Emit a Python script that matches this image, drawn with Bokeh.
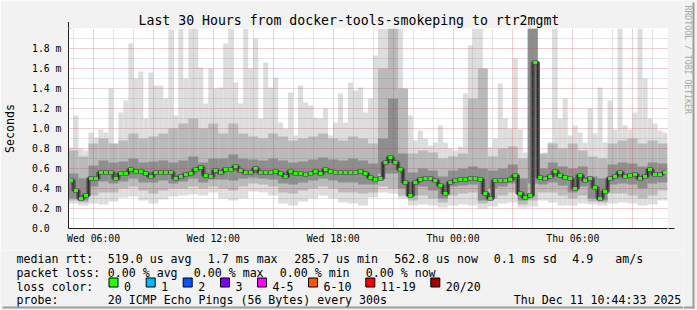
import math
from datetime import datetime, timedelta
import numpy as np
from bokeh.plotting import figure
from bokeh.layouts import row, column
from bokeh.models import Range1d, FixedTicker, Arrow, NormalHead, CustomJSTickFormatter
from bokeh.core.properties import value
from bokeh.embed import file_html
from bokeh.resources import INLINE

EPOCH = datetime(1970, 1, 1)


def ms(dt):
    return (dt - EPOCH).total_seconds() * 1000.0


START = datetime(2025, 12, 10, 4, 44, 33)
END = datetime(2025, 12, 11, 10, 44, 33)

# ---- data (milliseconds) ----
# median rtt, one value per 15 minutes
median_ms = [
    0.48, 0.38, 0.30, 0.33, 0.50, 0.50, 0.56, 0.56, 0.56, 0.50, 0.55, 0.55, 0.59, 0.57, 0.57,
    0.55, 0.52, 0.56, 0.56, 0.56, 0.56, 0.50, 0.52, 0.54, 0.55, 0.59, 0.61, 0.53, 0.52, 0.58,
    0.56, 0.59, 0.59, 0.62, 0.58, 0.56, 0.56, 0.60, 0.56, 0.56, 0.56, 0.57, 0.55, 0.52, 0.57,
    0.55, 0.55, 0.54, 0.55, 0.57, 0.55, 0.59, 0.57, 0.56, 0.56, 0.56, 0.56, 0.56, 0.57, 0.55,
    0.51, 0.49, 0.50, 0.66, 0.71, 0.66, 0.59, 0.46, 0.33, 0.46, 0.49, 0.50, 0.50, 0.48, 0.43,
    0.35, 0.46, 0.48, 0.49, 0.49, 0.50, 0.50, 0.49, 0.35, 0.30, 0.48, 0.48, 0.48, 0.49, 0.53,
    0.35, 0.31, 0.33, 1.66, 0.51, 0.50, 0.52, 0.57, 0.53, 0.51, 0.50, 0.40, 0.53, 0.48, 0.50,
    0.41, 0.30, 0.37, 0.50, 0.52, 0.56, 0.52, 0.53, 0.54, 0.50, 0.52, 0.59, 0.54, 0.54, 0.56,
]
# highest ping per 15 minutes (outer smoke top)
smoke_max = [
    0.81, 1.13, 0.80, 0.78, 0.96, 0.91, 0.99, 0.96, 1.40, 0.81, 1.16, 1.28, 1.85, 1.50, 1.57,
    1.10, 1.56, 1.43, 1.43, 1.30, 1.99, 1.13, 2.05, 1.50, 2.05, 2.05, 1.61, 1.25, 1.60, 1.40,
    1.41, 1.85, 2.05, 1.46, 1.25, 2.05, 1.60, 1.90, 1.10, 1.66, 1.41, 1.51, 1.06, 1.00, 1.36,
    0.93, 1.43, 1.26, 1.23, 1.11, 1.10, 1.20, 0.93, 1.06, 1.35, 1.06, 1.46, 1.38, 1.41, 1.16,
    1.30, 1.73, 2.05, 2.05, 2.05, 2.05, 2.05, 1.36, 1.13, 0.88, 0.98, 0.90, 0.83, 0.86, 1.03,
    0.86, 0.80, 0.78, 0.82, 1.35, 1.83, 2.05, 2.05, 1.06, 0.81, 0.90, 1.45, 1.10, 1.00, 1.70,
    0.99, 0.76, 0.75, 2.05, 0.75, 0.76, 0.86, 2.05, 1.10, 1.30, 0.93, 1.03, 0.96, 0.86, 1.20,
    0.95, 1.41, 0.86, 1.28, 0.99, 2.05, 1.03, 0.99, 1.16, 2.05, 1.50, 1.10, 1.05, 0.98, 0.96,
]
# lowest ping per 30 minutes (outer smoke bottom)
smoke_min = [
    0.25, 0.23, 0.25, 0.24, 0.27, 0.31, 0.32, 0.28, 0.25, 0.29, 0.32, 0.33, 0.34, 0.33, 0.36,
    0.30, 0.28, 0.30, 0.37, 0.36, 0.33, 0.25, 0.23, 0.27, 0.30, 0.33, 0.30, 0.26, 0.25, 0.23,
    0.31, 0.36, 0.35, 0.30, 0.23, 0.24, 0.23, 0.21, 0.23, 0.24, 0.23, 0.20, 0.22, 0.25, 0.26,
    0.21, 0.22, 0.28, 0.26, 0.23, 0.23, 0.25, 0.24, 0.23, 0.25, 0.26, 0.25, 0.23, 0.24, 0.28,
]
# inner smoke layers per 30 minutes
band1_hi = [
    0.78, 0.72, 0.85, 0.90, 0.85, 0.88, 0.95, 0.90, 0.92, 0.95, 1.00, 1.05, 1.10, 1.00, 1.05,
    0.95, 1.05, 0.95, 0.92, 0.90, 0.95, 0.92, 0.88, 0.90, 0.92, 0.95, 0.90, 0.88, 0.92, 0.90,
    0.85, 1.60, 2.05, 1.40, 0.75, 0.78, 0.76, 0.70, 0.72, 0.75, 1.30, 1.60, 0.72, 0.80, 0.82,
    0.70, 2.05, 0.75, 0.85, 0.80, 0.85, 0.78, 0.72, 0.70, 0.85, 0.88, 0.90, 0.85, 0.88, 0.85,
]
band1_lo = [
    0.28, 0.26, 0.33, 0.36, 0.36, 0.40, 0.42, 0.38, 0.35, 0.38, 0.40, 0.40, 0.42, 0.40, 0.42,
    0.40, 0.38, 0.42, 0.45, 0.44, 0.42, 0.36, 0.35, 0.38, 0.40, 0.42, 0.40, 0.36, 0.36, 0.35,
    0.36, 0.42, 0.40, 0.33, 0.28, 0.33, 0.30, 0.26, 0.33, 0.35, 0.36, 0.25, 0.30, 0.33, 0.36,
    0.24, 0.28, 0.36, 0.36, 0.33, 0.30, 0.33, 0.27, 0.26, 0.35, 0.35, 0.33, 0.30, 0.33, 0.38,
]
band2_hi = [
    0.55, 0.50, 0.63, 0.68, 0.66, 0.67, 0.70, 0.66, 0.67, 0.68, 0.66, 0.68, 0.72, 0.66, 0.70,
    0.70, 0.74, 0.70, 0.69, 0.68, 0.70, 0.68, 0.66, 0.67, 0.69, 0.71, 0.69, 0.68, 0.70, 0.68,
    0.65, 0.90, 1.30, 0.75, 0.56, 0.60, 0.58, 0.52, 0.58, 0.60, 0.62, 0.60, 0.58, 0.60, 0.64,
    0.50, 2.05, 0.60, 0.66, 0.62, 0.60, 0.62, 0.52, 0.50, 0.64, 0.66, 0.65, 0.62, 0.66, 0.65,
]
band2_lo = [
    0.30, 0.28, 0.42, 0.47, 0.45, 0.47, 0.50, 0.46, 0.46, 0.48, 0.45, 0.47, 0.50, 0.46, 0.49,
    0.49, 0.48, 0.50, 0.51, 0.50, 0.49, 0.45, 0.44, 0.46, 0.48, 0.50, 0.48, 0.46, 0.46, 0.44,
    0.44, 0.55, 0.55, 0.40, 0.33, 0.42, 0.38, 0.30, 0.42, 0.43, 0.44, 0.28, 0.40, 0.42, 0.45,
    0.28, 0.45, 0.44, 0.46, 0.43, 0.36, 0.42, 0.30, 0.28, 0.44, 0.45, 0.44, 0.40, 0.45, 0.46,
]

y_tick_values = [0.0, 0.2, 0.4, 0.6, 0.8, 1.0, 1.2, 1.4, 1.6, 1.8]

title_text = "Last 30 Hours from docker-tools-smokeping to rtr2mgmt"
rtt_row = ["median rtt:", "519.0 us avg", "1.7 ms max", "285.7 us min", "562.8 us now",
           "0.1 ms sd", "4.9", "am/s"]
loss_row = ["packet loss:", "0.00 % avg", "0.00 % max", "0.00 % min", "0.00 % now"]
loss_labels = ["0", "1", "2", "3", "4-5", "6-10", "11-19", "20/20"]
loss_colors = ["#26ff00", "#00b8ff", "#0059ff", "#7e00ff", "#ff00ff", "#ff5500", "#ff0000", "#a10000"]
probe_row = ["probe:", "20 ICMP Echo Pings (56 Bytes) every 300s", "Thu Dec 11 10:44:33 2025"]
watermark = "RRDTOOL / TOBI OETIKER"

# ---- layout constants (pixels) ----
rtt_x = [16, 107.3, 207.3, 293.7, 393.7, 493.3, 571.7, 614.7]
loss_x = [16, 107.3, 193.3, 279.3, 365.3]
box_x = [108.5, 145.7, 182.7, 220.0, 257.0, 308.0, 365.3, 430.3]
probe_x = [16, 107.3, 513.3]
row_y = [258, 272, 286, 299.5]
MONO = "DejaVu Sans Mono"
LEG_SIZE = "11.6px"
BG = "#f2f2f2"
MAIN_W, MAIN_H = 683, 250

fine_w = 15 * 60 * 1000
coarse_w = 30 * 60 * 1000
t_fine = [ms(START) + fine_w * (i + 0.5) for i in range(len(median_ms))]
t_coarse = [ms(START) + coarse_w * (i + 0.5) for i in range(len(smoke_min))]
smoke_min_fine = list(np.repeat(smoke_min, 2))

# ================= main chart =================
p = figure(width=MAIN_W, height=MAIN_H, x_axis_type="datetime", output_backend="svg",
           toolbar_location=None, tools="",
           x_range=Range1d(ms(START), ms(END)), y_range=Range1d(0, 2.0),
           min_border_left=67, min_border_right=MAIN_W - 667, min_border_top=28,
           min_border_bottom=22,
           background_fill_color="#ffffff", border_fill_color=BG,
           outline_line_color=None)

p.title.text = title_text
p.title.align = "left"
p.title.offset = 70
p.title.standoff = 1
p.title.text_font = MONO
p.title.text_font_size = "13.2px"
p.title.text_font_style = "normal"
p.title.text_color = "#000000"

# smoke layers
p.vbar(x=t_fine, width=fine_w, top=smoke_max, bottom=smoke_min_fine,
       fill_color="#dddddd", line_color=None)
p.vbar(x=t_coarse, width=coarse_w, top=band1_hi, bottom=band1_lo,
       fill_color="#bababa", line_color=None)
p.vbar(x=t_coarse, width=coarse_w, top=band2_hi, bottom=band2_lo,
       fill_color="#8e8e8e", line_color=None)
p.step(x=t_fine, y=median_ms, mode="center", line_width=4.5, line_color="#5a5a5a")
p.step(x=t_fine, y=median_ms, mode="center", line_width=1.5, line_color="#2a2a2a")
g = p.rect(x=t_fine, y=median_ms, width=4, height=3, width_units="screen",
           height_units="screen", fill_color="#26ff00", line_color=None)
g.level = "annotation"

# ticks / grids
six_h = []
t = datetime(2025, 12, 10, 6, 0)
while t <= END:
    six_h.append(ms(t))
    t += timedelta(hours=6)
three_h, one_h = [], []
t = datetime(2025, 12, 10, 5, 0)
while t <= END:
    (three_h if t.hour % 3 == 0 else one_h).append(ms(t))
    t += timedelta(hours=1)

p.xaxis.ticker = FixedTicker(ticks=six_h, minor_ticks=[])
p.xaxis.formatter = CustomJSTickFormatter(code="""
const d = new Date(tick);
const days = ['Sun','Mon','Tue','Wed','Thu','Fri','Sat'];
const h = String(d.getUTCHours()).padStart(2, '0');
const m = String(d.getUTCMinutes()).padStart(2, '0');
return days[d.getUTCDay()] + ' ' + h + ':' + m;
""")
p.yaxis.ticker = FixedTicker(ticks=y_tick_values, minor_ticks=[])
p.yaxis.formatter = CustomJSTickFormatter(
    code="return tick == 0 ? '0.0\u00a0\u00a0' : tick.toFixed(1) + ' m';")

for ax in (p.xaxis, p.yaxis):
    ax.major_label_text_font = MONO
    ax.major_label_text_font_size = "9.8px"
    ax.major_label_text_color = "#000000"
    ax.major_tick_in = 0
    ax.major_tick_out = 0
    ax.minor_tick_line_color = None
    ax.axis_line_color = "#202020"
p.xaxis.major_label_standoff = 4
p.yaxis.major_label_standoff = 7
p.yaxis.axis_label = "Seconds"
p.yaxis.axis_label_text_font = MONO
p.yaxis.axis_label_text_font_size = LEG_SIZE
p.yaxis.axis_label_text_font_style = "normal"
p.yaxis.axis_label_text_color = "#000000"
p.yaxis.axis_label_standoff = 12

p.xgrid.ticker = FixedTicker(ticks=three_h, minor_ticks=one_h)
p.ygrid.ticker = FixedTicker(ticks=[0.2, 0.4, 0.6, 0.8, 1.0, 1.2, 1.4, 1.6, 1.8],
                             minor_ticks=[0.1, 0.3, 0.5, 0.7, 0.9, 1.1, 1.3, 1.5, 1.7, 1.9])
for gr in (p.xgrid, p.ygrid):
    gr.grid_line_color = "#c04040"
    gr.grid_line_alpha = 0.5
    gr.grid_line_dash = "1 1"
    gr.minor_grid_line_color = "#808080"
    gr.minor_grid_line_alpha = 0.4
    gr.minor_grid_line_dash = "1 1"
    gr.level = "guide"

# axis arrows
px_ms = 180000
p.add_layout(Arrow(end=NormalHead(size=6, fill_color="#a00000", line_color="#a00000"),
                   x_start=ms(END) - px_ms, y_start=0, x_end=ms(END) + 7 * px_ms, y_end=0,
                   line_color="#202020", line_width=1))
p.add_layout(Arrow(end=NormalHead(size=6, fill_color="#a00000", line_color="#a00000"),
                   x_start=ms(START), y_start=1.98, x_end=ms(START), y_end=2.065,
                   line_color="#202020", line_width=1))

# ================= legend block (canvas pixel coordinates) =================
leg = figure(width=MAIN_W, height=310 - MAIN_H, output_backend="svg", toolbar_location=None,
             tools="", x_range=Range1d(0, MAIN_W), y_range=Range1d(310, MAIN_H),
             min_border=0, background_fill_color=BG, border_fill_color=BG,
             outline_line_color=None, x_axis_location=None, y_axis_location=None)
leg.grid.visible = False

txt, tx, ty = [], [], []
for s, x in zip(rtt_row, rtt_x):
    txt.append(s); tx.append(x); ty.append(row_y[0])
for s, x in zip(loss_row, loss_x):
    txt.append(s); tx.append(x); ty.append(row_y[1])
txt.append("loss color:"); tx.append(16); ty.append(row_y[2])
for s, bx in zip(loss_labels, box_x):
    txt.append(s); tx.append(bx + 15); ty.append(row_y[2])
for s, x in zip(probe_row, probe_x):
    txt.append(s); tx.append(x); ty.append(row_y[3])
leg.text(x=tx, y=ty, text=txt, text_font=value(MONO), text_font_size=value(LEG_SIZE),
         text_color="#000000", text_align="left", text_baseline="alphabetic")
leg.quad(left=box_x, right=[b + 9 for b in box_x], top=[277.5] * len(box_x),
         bottom=[286.5] * len(box_x), fill_color=loss_colors, line_color="#000000",
         line_width=1)
leg.quad(left=[2], right=[MAIN_W], top=[306], bottom=[308], fill_color="#9c9c9c",
         line_color=None)

# ================= right strip (watermark + frame shade) =================
mark = figure(width=697 - MAIN_W, height=310, output_backend="svg", toolbar_location=None,
              tools="", x_range=Range1d(MAIN_W, 697), y_range=Range1d(310, 0),
              min_border=0, background_fill_color=BG, border_fill_color=BG,
              outline_line_color=None, x_axis_location=None, y_axis_location=None)
mark.grid.visible = False
mark.text(x=[687], y=[5], text=[watermark], angle=-math.pi / 2,
          text_font=value(MONO), text_font_size=value("8.2px"), text_color="#a8a8a8",
          text_align="left", text_baseline="middle")
mark.quad(left=[692, MAIN_W], right=[694, 694], top=[2, 306], bottom=[308, 308],
          fill_color="#9c9c9c", line_color=None)

layout = row(column(p, row(leg, spacing=0), spacing=0), mark, spacing=0)
open("out.html", "w").write(file_html(layout, INLINE))
